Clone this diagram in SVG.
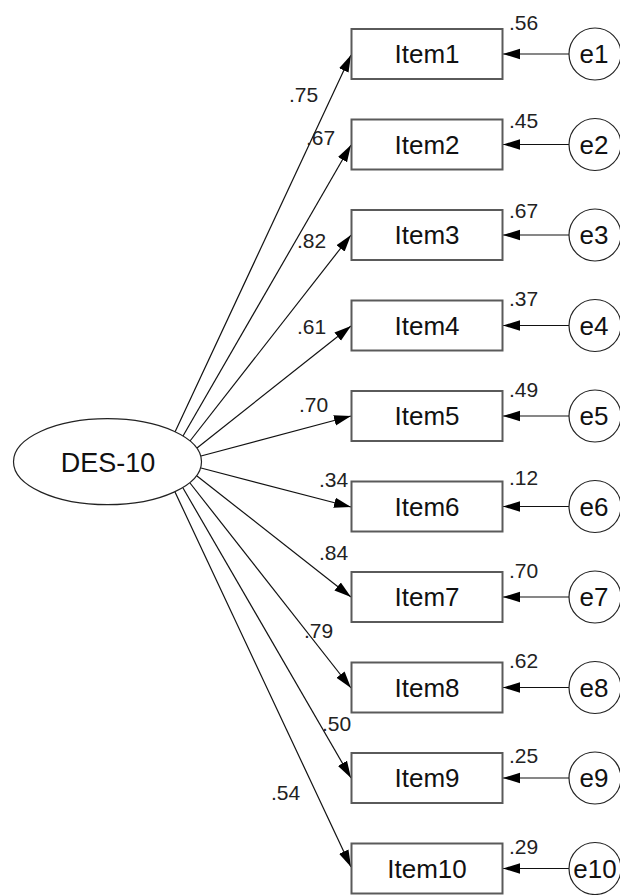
<svg xmlns="http://www.w3.org/2000/svg" width="620" height="895" viewBox="0 0 620 895">
<defs>
<marker id="ah" markerUnits="userSpaceOnUse" markerWidth="18" markerHeight="12" refX="17" refY="6" orient="auto">
<path d="M0,0.8 L17,6 L0,11.2 z" fill="#000"/>
</marker>
<style>
.box{fill:#fff;stroke:#5a5a5a;stroke-width:2}
.circ{fill:#fff;stroke:#222;stroke-width:1.2}
.ell{fill:#fff;stroke:#222;stroke-width:1.2}
.ln{stroke:#111;stroke-width:1.2;fill:none;marker-end:url(#ah)}
.t{font-family:"Liberation Sans",Arial,sans-serif;font-size:26px;fill:#111;text-anchor:middle}
.d{font-family:"Liberation Sans",Arial,sans-serif;font-size:27px;fill:#111;text-anchor:middle}
.c{font-family:"Liberation Sans",Arial,sans-serif;font-size:21px;fill:#222}
</style>
</defs>
<rect width="620" height="895" fill="#fff"/>
<g id="connectors">
<line class="ln" x1="175" y1="432" x2="351" y2="55"/>
<line class="ln" x1="183" y1="436" x2="351" y2="145"/>
<line class="ln" x1="190" y1="441" x2="351" y2="235"/>
<line class="ln" x1="197" y1="448" x2="351" y2="326"/>
<line class="ln" x1="201" y1="456" x2="351" y2="416"/>
<line class="ln" x1="201" y1="468" x2="351" y2="507"/>
<line class="ln" x1="197" y1="476" x2="351" y2="597"/>
<line class="ln" x1="190" y1="483" x2="351" y2="688"/>
<line class="ln" x1="183" y1="488" x2="351" y2="778"/>
<line class="ln" x1="175" y1="492" x2="351" y2="867"/>
<line class="ln" x1="569" y1="54" x2="503" y2="54"/>
<line class="ln" x1="569" y1="144.5" x2="503" y2="144.5"/>
<line class="ln" x1="569" y1="235" x2="503" y2="235"/>
<line class="ln" x1="569" y1="325.5" x2="503" y2="325.5"/>
<line class="ln" x1="569" y1="416" x2="503" y2="416"/>
<line class="ln" x1="569" y1="506.5" x2="503" y2="506.5"/>
<line class="ln" x1="569" y1="597" x2="503" y2="597"/>
<line class="ln" x1="569" y1="687.5" x2="503" y2="687.5"/>
<line class="ln" x1="569" y1="778" x2="503" y2="778"/>
<line class="ln" x1="569" y1="868.5" x2="503" y2="868.5"/>
<text class="c" x="289" y="102">.75</text>
<text class="c" x="306" y="145">.67</text>
<text class="c" x="297" y="248">.82</text>
<text class="c" x="297" y="334">.61</text>
<text class="c" x="299" y="412">.70</text>
<text class="c" x="319" y="487">.34</text>
<text class="c" x="319" y="560">.84</text>
<text class="c" x="304" y="638">.79</text>
<text class="c" x="322" y="731">.50</text>
<text class="c" x="271" y="800">.54</text>
</g>
<g id="DES10"><ellipse class="ell" cx="107.5" cy="461.7" rx="94" ry="43"/><text class="d" x="108" y="471.5">DES-10</text></g>
<g id="Item1"><rect class="box" x="351.5" y="29" width="151" height="50"/><text class="t" x="427" y="63">Item1</text><text class="c" x="509" y="30">.56</text></g>
<g id="Item2"><rect class="box" x="351.5" y="119.5" width="151" height="50"/><text class="t" x="427" y="153.5">Item2</text><text class="c" x="509" y="128">.45</text></g>
<g id="Item3"><rect class="box" x="351.5" y="210" width="151" height="50"/><text class="t" x="427" y="244">Item3</text><text class="c" x="509" y="218">.67</text></g>
<g id="Item4"><rect class="box" x="351.5" y="300.5" width="151" height="50"/><text class="t" x="427" y="334.5">Item4</text><text class="c" x="509" y="306">.37</text></g>
<g id="Item5"><rect class="box" x="351.5" y="391" width="151" height="50"/><text class="t" x="427" y="425">Item5</text><text class="c" x="509" y="397">.49</text></g>
<g id="Item6"><rect class="box" x="351.5" y="481.5" width="151" height="50"/><text class="t" x="427" y="515.5">Item6</text><text class="c" x="509" y="485">.12</text></g>
<g id="Item7"><rect class="box" x="351.5" y="572" width="151" height="50"/><text class="t" x="427" y="606">Item7</text><text class="c" x="509" y="578">.70</text></g>
<g id="Item8"><rect class="box" x="351.5" y="662.5" width="151" height="50"/><text class="t" x="427" y="696.5">Item8</text><text class="c" x="509" y="668">.62</text></g>
<g id="Item9"><rect class="box" x="351.5" y="753" width="151" height="50"/><text class="t" x="427" y="787">Item9</text><text class="c" x="509" y="763">.25</text></g>
<g id="Item10"><rect class="box" x="351.5" y="843.5" width="151" height="50"/><text class="t" x="427" y="877.5">Item10</text><text class="c" x="509" y="854">.29</text></g>
<g id="e1"><circle class="circ" cx="595" cy="54" r="26"/><text class="t" x="594" y="63">e1</text></g>
<g id="e2"><circle class="circ" cx="595" cy="144.5" r="26"/><text class="t" x="594" y="153.5">e2</text></g>
<g id="e3"><circle class="circ" cx="595" cy="235" r="26"/><text class="t" x="594" y="244">e3</text></g>
<g id="e4"><circle class="circ" cx="595" cy="325.5" r="26"/><text class="t" x="594" y="334.5">e4</text></g>
<g id="e5"><circle class="circ" cx="595" cy="416" r="26"/><text class="t" x="594" y="425">e5</text></g>
<g id="e6"><circle class="circ" cx="595" cy="506.5" r="26"/><text class="t" x="594" y="515.5">e6</text></g>
<g id="e7"><circle class="circ" cx="595" cy="597" r="26"/><text class="t" x="594" y="606">e7</text></g>
<g id="e8"><circle class="circ" cx="595" cy="687.5" r="26"/><text class="t" x="594" y="696.5">e8</text></g>
<g id="e9"><circle class="circ" cx="595" cy="778" r="26"/><text class="t" x="594" y="787">e9</text></g>
<g id="e10"><circle class="circ" cx="595" cy="868.5" r="26"/><text class="t" x="595" y="877.5">e10</text></g>
</svg>
